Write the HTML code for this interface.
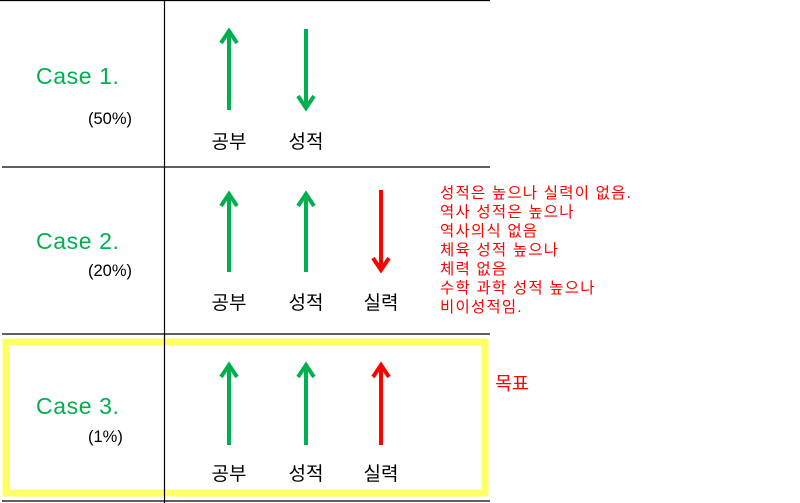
<!DOCTYPE html><html><head><meta charset="utf-8"><style>body{margin:0;width:800px;height:503px;background:#fff;overflow:hidden}</style></head><body>
<svg width="800" height="503" xmlns="http://www.w3.org/2000/svg" style="position:absolute;left:0;top:0;font-family:'Liberation Sans','Noto Sans CJK KR',sans-serif">
<rect x="6" y="342" width="479" height="151" fill="none" stroke="#ffff66" stroke-width="7"/>
<line x1="0" y1="0.5" x2="490" y2="0.5" stroke="#000" stroke-width="1.2"/>
<line x1="2" y1="167" x2="490" y2="167" stroke="#000" stroke-width="1.2"/>
<line x1="2" y1="334" x2="490" y2="334" stroke="#000" stroke-width="1.2"/>
<line x1="2" y1="501" x2="490" y2="501" stroke="#000" stroke-width="1.2"/>
<line x1="164.5" y1="0" x2="164.5" y2="503" stroke="#000" stroke-width="1.2"/>
<g stroke-width="4" fill="none" stroke-linecap="butt">
<g stroke="#00b050">
<path d="M229 110V31M221 43L229 31L237 43"/>
<path d="M306 29V108M298 96L306 108L314 96"/>
<path d="M229 272V194M221 206L229 194L237 206"/>
<path d="M306 272V194M298 206L306 194L314 206"/>
<path d="M229 445V365M221 377L229 365L237 377"/>
<path d="M306 445V365M298 377L306 365L314 377"/>
</g>
<g stroke="#ff0000">
<path d="M381 190V270M373 258L381 270L389 258"/>
<path d="M381 445V365M373 377L381 365L389 377"/>
</g>
</g>
<g fill="#00b050" font-size="23" letter-spacing="0.6">
<text x="36" y="84">Case 1.</text>
<text x="36" y="249">Case 2.</text>
<text x="36" y="414">Case 3.</text>
</g>
<g fill="#000" font-size="16.5">
<text x="88" y="124">(50%)</text>
<text x="88" y="276">(20%)</text>
<text x="88" y="442">(1%)</text>
</g>
<g fill="#000" font-size="19" text-anchor="middle">
<text x="229" y="148">공부</text><text x="306" y="148">성적</text>
<text x="229" y="309">공부</text><text x="306" y="309">성적</text><text x="381" y="309">실력</text>
<text x="229" y="480">공부</text><text x="306" y="480">성적</text><text x="381" y="480">실력</text>
</g>
<g fill="#ff0000" font-size="15.5" letter-spacing="1.2">
<text x="440" y="198">성적은 높으나 실력이 없음.</text>
<text x="440" y="217">역사 성적은 높으나</text>
<text x="440" y="236">역사의식 없음</text>
<text x="440" y="255">체육 성적 높으나</text>
<text x="440" y="274">체력 없음</text>
<text x="440" y="293">수학 과학 성적 높으나</text>
<text x="440" y="312">비이성적임.</text>
<text x="495" y="390" font-size="18.5" letter-spacing="0">목표</text>
</g>
</svg>
</body></html>
